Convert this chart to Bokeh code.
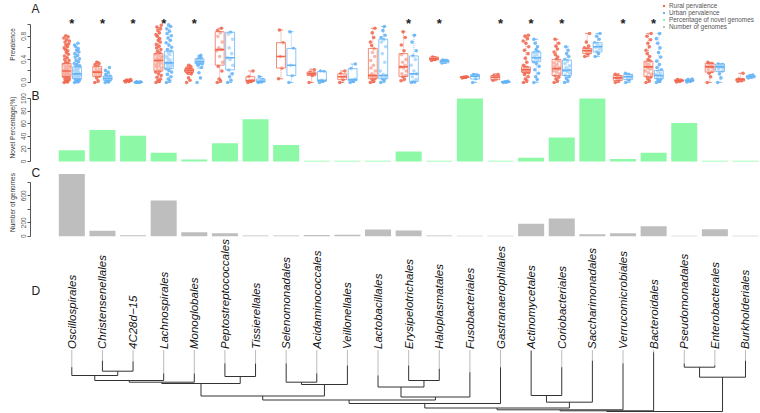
import math
from bokeh.plotting import figure
from bokeh.layouts import column
from bokeh.models import Range1d, Label, Legend, LegendItem, FixedTicker
from bokeh.core.properties import value
from bokeh.embed import file_html
from bokeh.resources import INLINE

# ---------------- data ----------------
orders = ["Oscillospirales", "Christensenellales", "4C28d\u221215", "Lachnospirales",
          "Monoglobales", "Peptostreptococcales", "Tissierellales", "Selenomonadales",
          "Acidaminococcales", "Veillonellales", "Lactobacillales", "Erysipelotrichales",
          "Haloplasmatales", "Fusobacteriales", "Gastranaerophilales", "Actinomycetales",
          "Coriobacteriales", "Saccharimonadales", "Verrucomicrobiales", "Bacteroidales",
          "Pseudomonadales", "Enterobacterales", "Burkholderiales"]

novel_pct = [18, 50, 41, 14, 3, 29, 67, 26, 1, 1, 1, 16, 1, 100, 1, 6, 38, 100, 4, 14, 61, 1, 1]
n_genomes = [923, 79, 15, 528, 59, 44, 12, 12, 18, 22, 99, 84, 10, 5, 8, 183, 262, 30, 44, 148, 8, 104, 8]
significant = [1, 1, 1, 1, 1, 0, 0, 0, 0, 0, 0, 1, 1, 0, 1, 1, 1, 0, 1, 1, 0, 0, 0]
legend_labels = ["Rural pervalence", "Urban pervalence", "Percentage of novel genomes", "Number of genomes"]

# (lower whisker, q1, median, q3, upper whisker)
rural_stats = [
    (0.0, 0.105, 0.2, 0.33, 0.66), (0.0, 0.105, 0.18, 0.28, 0.36), (0.01, 0.02, 0.03, 0.04, 0.06),
    (0.0, 0.2, 0.38, 0.5, 0.95), (0.14, 0.18, 0.21, 0.24, 0.3), (0.0, 0.3, 0.57, 0.88, 0.94),
    (0.0, 0.02, 0.035, 0.1, 0.2), (0.065, 0.25, 0.45, 0.69, 0.91), (0.0, 0.12, 0.15, 0.18, 0.23),
    (0.0, 0.05, 0.1, 0.15, 0.2), (0.0, 0.065, 0.12, 0.59, 0.94), (0.03, 0.105, 0.27, 0.5, 0.88),
    (0.38, 0.39, 0.41, 0.44, 0.45), (0.07, 0.085, 0.09, 0.1, 0.11), (0.03, 0.05, 0.09, 0.12, 0.15),
    (0.0, 0.18, 0.22, 0.27, 0.82), (0.0, 0.12, 0.24, 0.4, 0.75), (0.45, 0.5, 0.55, 0.59, 0.85),
    (0.0, 0.035, 0.08, 0.12, 0.15), (0.0, 0.1, 0.27, 0.37, 0.85), (0.01, 0.02, 0.03, 0.05, 0.06),
    (0.0, 0.18, 0.27, 0.33, 0.35), (0.02, 0.025, 0.05, 0.065, 0.16)]
urban_stats = [
    (0.0, 0.065, 0.15, 0.27, 0.57), (0.0, 0.04, 0.07, 0.11, 0.2), (0.0, 0.0, 0.005, 0.01, 0.015),
    (0.0, 0.24, 0.34, 0.54, 0.98), (0.25, 0.33, 0.36, 0.41, 0.47), (0.0, 0.22, 0.43, 0.87, 0.87),
    (0.0, 0.01, 0.02, 0.06, 0.1), (0.0, 0.12, 0.3, 0.59, 0.88), (0.0, 0.02, 0.04, 0.19, 0.2),
    (0.0, 0.03, 0.05, 0.24, 0.32), (0.0, 0.065, 0.12, 0.75, 0.97), (0.0, 0.02, 0.15, 0.46, 0.82),
    (0.33, 0.34, 0.37, 0.39, 0.4), (0.0, 0.06, 0.11, 0.14, 0.15), (0.0, 0.005, 0.01, 0.02, 0.03),
    (0.0, 0.36, 0.43, 0.53, 0.75), (0.0, 0.12, 0.21, 0.39, 0.62), (0.45, 0.53, 0.62, 0.69, 0.85),
    (0.0, 0.05, 0.1, 0.14, 0.16), (0.0, 0.065, 0.12, 0.21, 0.85), (0.01, 0.02, 0.03, 0.05, 0.06),
    (0.0, 0.19, 0.27, 0.32, 0.32), (0.07, 0.08, 0.1, 0.12, 0.13)]

rural_pts = [
    [0.0, 0.01, 0.02, 0.04, 0.05, 0.07, 0.08, 0.1, 0.11, 0.12, 0.13, 0.14, 0.15, 0.16, 0.17, 0.18, 0.19, 0.2, 0.21, 0.22, 0.23, 0.25, 0.26, 0.28, 0.29, 0.31, 0.33, 0.35, 0.38, 0.4, 0.43, 0.46, 0.49, 0.52, 0.55, 0.57, 0.6, 0.62, 0.65, 0.67, 0.7, 0.72, 0.74, 0.77, 0.79, 0.81],
    [0.0, 0.03, 0.08, 0.11, 0.13, 0.15, 0.17, 0.18, 0.19, 0.21, 0.23, 0.26, 0.28, 0.31, 0.33, 0.35],
    [0.01, 0.02, 0.03, 0.03, 0.04, 0.05],
    [0.0, 0.02, 0.04, 0.06, 0.09, 0.12, 0.15, 0.18, 0.2, 0.22, 0.25, 0.27, 0.29, 0.31, 0.33, 0.35, 0.36, 0.37, 0.38, 0.39, 0.4, 0.41, 0.43, 0.45, 0.47, 0.49, 0.51, 0.54, 0.57, 0.6, 0.63, 0.66, 0.7, 0.73, 0.76, 0.8, 0.83, 0.86, 0.9, 0.93, 0.96, 0.99],
    [0.0, 0.04, 0.08, 0.15, 0.17, 0.18, 0.19, 0.2, 0.21, 0.21, 0.22, 0.23, 0.24, 0.25, 0.27, 0.3],
    [0.0, 0.03, 0.06, 0.2, 0.28, 0.35, 0.45, 0.55, 0.57, 0.6, 0.7, 0.8, 0.86, 0.9, 0.94],
    [0.0, 0.02, 0.03, 0.04, 0.1, 0.2],
    [0.065, 0.25, 0.45, 0.69, 0.91],
    [0.0, 0.12, 0.14, 0.16, 0.18, 0.22],
    [0.0, 0.05, 0.09, 0.11, 0.15, 0.2],
    [0.0, 0.02, 0.05, 0.07, 0.09, 0.1, 0.11, 0.12, 0.13, 0.15, 0.2, 0.25, 0.3, 0.38, 0.45, 0.52, 0.58, 0.64, 0.7, 0.78, 0.86, 0.94],
    [0.03, 0.06, 0.1, 0.12, 0.15, 0.2, 0.25, 0.27, 0.3, 0.35, 0.4, 0.48, 0.55, 0.65, 0.78, 0.88],
    [0.38, 0.4, 0.41, 0.42, 0.44],
    [0.08, 0.09, 0.09, 0.1],
    [0.04, 0.07, 0.09, 0.1, 0.12, 0.14],
    [0.0, 0.03, 0.06, 0.1, 0.14, 0.17, 0.18, 0.19, 0.2, 0.21, 0.21, 0.22, 0.22, 0.23, 0.24, 0.25, 0.26, 0.27, 0.3, 0.35, 0.42, 0.5, 0.56, 0.62, 0.68, 0.72, 0.76, 0.8, 0.82],
    [0.0, 0.03, 0.06, 0.09, 0.12, 0.15, 0.18, 0.2, 0.22, 0.24, 0.26, 0.28, 0.31, 0.34, 0.37, 0.4, 0.44, 0.48, 0.53, 0.58, 0.63, 0.68, 0.75],
    [0.45, 0.49, 0.51, 0.53, 0.55, 0.56, 0.58, 0.6, 0.63, 0.7, 0.85],
    [0.0, 0.03, 0.05, 0.07, 0.08, 0.1, 0.12, 0.14],
    [0.0, 0.03, 0.06, 0.09, 0.11, 0.14, 0.17, 0.2, 0.23, 0.25, 0.27, 0.29, 0.31, 0.34, 0.37, 0.4, 0.45, 0.5, 0.56, 0.62, 0.68, 0.74, 0.8, 0.85],
    [0.01, 0.02, 0.03, 0.04, 0.05],
    [0.0, 0.1, 0.16, 0.19, 0.22, 0.25, 0.27, 0.28, 0.3, 0.32, 0.33, 0.35],
    [0.02, 0.03, 0.04, 0.05, 0.06, 0.16]]
urban_pts = [
    [0.0, 0.01, 0.02, 0.03, 0.05, 0.06, 0.07, 0.09, 0.1, 0.11, 0.12, 0.13, 0.14, 0.15, 0.16, 0.17, 0.18, 0.2, 0.21, 0.23, 0.24, 0.26, 0.27, 0.29, 0.31, 0.33, 0.36, 0.38, 0.41, 0.44, 0.47, 0.5, 0.53, 0.56, 0.59, 0.62, 0.65, 0.68],
    [0.0, 0.01, 0.03, 0.04, 0.05, 0.06, 0.07, 0.08, 0.09, 0.1, 0.11, 0.14, 0.17, 0.21, 0.26],
    [0.0, 0.0, 0.005, 0.01, 0.01],
    [0.0, 0.03, 0.06, 0.1, 0.14, 0.18, 0.21, 0.24, 0.26, 0.28, 0.3, 0.32, 0.33, 0.34, 0.35, 0.37, 0.39, 0.42, 0.45, 0.48, 0.51, 0.54, 0.57, 0.61, 0.65, 0.69, 0.73, 0.77, 0.81, 0.85, 0.89, 0.93, 0.97, 1.0],
    [0.0, 0.08, 0.17, 0.26, 0.3, 0.32, 0.33, 0.34, 0.35, 0.36, 0.37, 0.38, 0.39, 0.4, 0.42, 0.44, 0.47],
    [0.0, 0.04, 0.1, 0.15, 0.22, 0.3, 0.4, 0.43, 0.5, 0.6, 0.75, 0.84, 0.87],
    [0.0, 0.01, 0.02, 0.05, 0.1],
    [0.0, 0.12, 0.3, 0.59, 0.88],
    [0.0, 0.02, 0.04, 0.19, 0.2],
    [0.0, 0.02, 0.04, 0.06, 0.24, 0.32],
    [0.0, 0.03, 0.06, 0.08, 0.1, 0.12, 0.14, 0.2, 0.35, 0.5, 0.62, 0.7, 0.74, 0.78, 0.82, 0.9, 0.97],
    [0.0, 0.01, 0.02, 0.05, 0.1, 0.15, 0.2, 0.3, 0.4, 0.46, 0.55, 0.7, 0.82],
    [0.34, 0.36, 0.37, 0.38, 0.39],
    [0.0, 0.07, 0.11, 0.13, 0.14],
    [0.0, 0.005, 0.01, 0.02],
    [0.0, 0.05, 0.1, 0.16, 0.22, 0.28, 0.33, 0.36, 0.39, 0.41, 0.43, 0.45, 0.48, 0.51, 0.53, 0.57, 0.62, 0.68, 0.75],
    [0.0, 0.03, 0.07, 0.1, 0.13, 0.16, 0.19, 0.21, 0.23, 0.26, 0.29, 0.33, 0.37, 0.4, 0.45, 0.5, 0.56, 0.62],
    [0.45, 0.5, 0.54, 0.58, 0.61, 0.63, 0.66, 0.69, 0.75, 0.8, 0.85],
    [0.0, 0.04, 0.06, 0.08, 0.1, 0.12, 0.14, 0.16],
    [0.0, 0.02, 0.04, 0.06, 0.08, 0.1, 0.12, 0.14, 0.16, 0.19, 0.22, 0.26, 0.31, 0.37, 0.44, 0.52, 0.6, 0.68, 0.76, 0.85],
    [0.01, 0.02, 0.03, 0.04, 0.05, 0.06],
    [0.0, 0.08, 0.15, 0.2, 0.23, 0.25, 0.27, 0.28, 0.29, 0.3, 0.31, 0.32],
    [0.08, 0.1, 0.12, 0.13]]

# tree: depth below the tip-label line where each leaf branch begins, and merges (a, b, depth)
leaf_tip_depth = [16.7, 10, 11, 23, 23, 13, 13, 13, 23, 15, 25, 15, 18, 21.7, 16.7, 0, 16.7, 10, 13, 1.7, 13, 15, 10]
merges = [(1, 2, 20.7), (0, 23, 25), (24, 3, 30), (25, 4, 31.7), (5, 6, 26), (26, 27, 33),
          (7, 8, 31.7), (29, 9, 34), (28, 30, 45.5), (11, 12, 30), (10, 32, 36.5), (33, 13, 46.5),
          (31, 34, 49.5), (35, 14, 53), (15, 16, 45), (37, 17, 51.7), (36, 38, 57.5),
          (20, 21, 16.7), (40, 22, 26.7), (39, 18, 59.3), (42, 19, 60.3), (43, 41, 61)]

# ---------------- style ----------------
RED = "#F0654C"
BLUE = "#62B2F6"
GREEN = "#8DF9A7"
GREY = "#BEBEBE"
AXC = "#555555"
W = 760
LB = 30
xr = Range1d(-0.349, 23.49)
pos = [i + 1 for i in range(len(orders))]
JIT = [-0.08, 0.03, -0.02, 0.07, -0.05, 0.09, 0.0, -0.09, 0.05, -0.03, 0.08, -0.06, 0.02, -0.07, 0.06, -0.01, 0.04, -0.04]
NAN = float("nan")


def base_fig(height, yr, yaxis=True):
    p = figure(width=W, height=height, x_range=xr, y_range=yr, output_backend="svg",
               toolbar_location=None, x_axis_location=None,
               y_axis_location="left" if yaxis else None,
               min_border_left=LB, min_border_right=0, min_border_top=0, min_border_bottom=0)
    p.xgrid.visible = False
    p.ygrid.visible = False
    p.outline_line_color = None
    return p


def style_y(p, ticks, overrides, bounds, label):
    ax = p.yaxis[0]
    ax.ticker = FixedTicker(ticks=ticks)
    ax.major_label_overrides = overrides
    ax.bounds = bounds
    ax.axis_line_color = AXC
    ax.major_tick_line_color = AXC
    ax.minor_tick_line_color = None
    ax.major_tick_out = 3
    ax.major_tick_in = 0
    ax.major_label_orientation = "vertical"
    ax.major_label_text_font_size = "6.5px"
    ax.major_label_text_color = AXC
    ax.major_label_standoff = 1
    ax.axis_label = label
    ax.axis_label_text_font_size = "6.5px"
    ax.axis_label_text_font_style = "normal"
    ax.axis_label_text_color = "#333333"
    ax.axis_label_standoff = 3


def panel_letter(p, txt, y_from_bottom):
    p.add_layout(Label(x=1, y=y_from_bottom, x_units="screen", y_units="screen", text=txt,
                       text_font_size="12px", text_baseline="middle", text_color="#222222",
                       text_font="Liberation Sans"))


# ---------------- panel A ----------------
pA = base_fig(88, Range1d(-0.104, 1.421))
style_y(pA, [0, 0.2, 0.4, 0.6, 0.8, 1.0],
        {0: "0.0", 0.2: "", 0.4: "0.4", 0.6: "", 0.8: "0.8", 1: ""}, (0, 1), "Prevalence")

for stats, pts, off, col in ((rural_stats, rural_pts, -0.17, RED), (urban_stats, urban_pts, 0.17, BLUE)):
    xs, ys = [], []
    for i, vals in enumerate(pts):
        for j, v in enumerate(vals):
            xs.append(pos[i] + off + JIT[j % len(JIT)])
            ys.append(v)
    pA.scatter(xs, ys, size=3.6, color=col, alpha=0.85, line_width=0)
    bx = [pos[i] + off for i in range(len(stats))]
    lo = [s[0] for s in stats]
    q1 = [s[1] for s in stats]
    md = [s[2] for s in stats]
    q3 = [s[3] for s in stats]
    hi = [s[4] for s in stats]
    hw = 0.145
    pA.segment(bx, q3, bx, hi, line_color=col, line_alpha=0.7, line_dash="1 1", line_width=1)
    pA.segment(bx, lo, bx, q1, line_color=col, line_alpha=0.7, line_dash="1 1", line_width=1)
    pA.segment([x - 0.07 for x in bx], hi, [x + 0.07 for x in bx], hi, line_color=col, line_alpha=0.7)
    pA.segment([x - 0.07 for x in bx], lo, [x + 0.07 for x in bx], lo, line_color=col, line_alpha=0.7)
    pA.quad(left=[x - hw for x in bx], right=[x + hw for x in bx], bottom=q1, top=q3,
            fill_color="white", fill_alpha=0.45, line_color=col, line_alpha=0.75, line_width=1)
    pA.segment([x - hw for x in bx], md, [x + hw for x in bx], md, line_color=col, line_width=1.6)

star_x = [pos[i] for i in range(len(orders)) if significant[i]]
pA.text(star_x, [1.02] * len(star_x), text=["*"] * len(star_x), text_font_size="13px",
        text_align="center", text_baseline="middle", text_color="#222222",
        text_font=value("Liberation Sans"), text_font_style="bold")

# legend swatches: renderers holding no visible point (NaN), used only for the key
lr = [pA.scatter([NAN], [NAN], marker="square", size=5, fill_color=c, line_color=None)
      for c in (RED, BLUE, GREEN, GREY)]
legend = Legend(items=[LegendItem(label=t, renderers=[r]) for t, r in zip(legend_labels, lr)],
                location=(631, 58), orientation="vertical", label_text_font_size="6.4px",
                label_text_line_height=0.9,
                glyph_width=5, glyph_height=5, label_height=7, spacing=0, padding=0, margin=0,
                border_line_color=None, background_fill_alpha=0, label_text_color="#555555",
                label_standoff=3, label_text_font="Liberation Sans")
pA.add_layout(legend)
panel_letter(pA, "A", 80)

# ---------------- panel B ----------------
pB = base_fig(78, Range1d(-7.94, 115.9))
style_y(pB, [0, 20, 40, 60, 80, 100], {}, (0, 100), "Novel Percentage(%)")
pB.vbar(x=pos, top=novel_pct, bottom=0, width=0.85, fill_color=GREEN, line_color=None)
panel_letter(pB, "B", 71)

# ---------------- panel C ----------------
pC = base_fig(72, Range1d(-34.1, 1032.6))
style_y(pC, [0, 200, 400, 600, 800], {400: "", 800: ""}, (0, 800), "Number of genomes")
pC.vbar(x=pos, top=n_genomes, bottom=0, width=0.85, fill_color=GREY, line_color=None)
panel_letter(pC, "C", 66)

# ---------------- panel D ----------------
pD = base_fig(175, Range1d(63, -112), yaxis=False)
nx = list(pos)
nh = list(leaf_tip_depth)
x0, y0, x1, y1 = [], [], [], []
for a, b, h in merges:
    for c in (a, b):
        x0.append(nx[c]); y0.append(nh[c]); x1.append(nx[c]); y1.append(h)
    x0.append(nx[a]); y0.append(h); x1.append(nx[b]); y1.append(h)
    nx.append((nx[a] + nx[b]) / 2.0)
    nh.append(h)
pD.segment(x0, y0, x1, y1, line_color="#333333", line_width=1)
dx = [pos[i] for i in range(len(orders)) if leaf_tip_depth[i] > 0]
dt = [leaf_tip_depth[i] for i in range(len(orders)) if leaf_tip_depth[i] > 0]
pD.segment(dx, [0] * len(dx), dx, dt, line_color="#777777", line_width=1, line_dash="1 1")
pD.text(pos, [-1.5] * len(pos), text=orders, angle=math.pi / 2, text_align="left",
        text_baseline="middle", text_font_size="11.5px", text_font=value("Liberation Sans"),
        text_font_style="italic", text_color="#111111")
panel_letter(pD, "D", 123)

layout = column(pA, pB, pC, pD)
open("out.html", "w").write(file_html(layout, INLINE))
